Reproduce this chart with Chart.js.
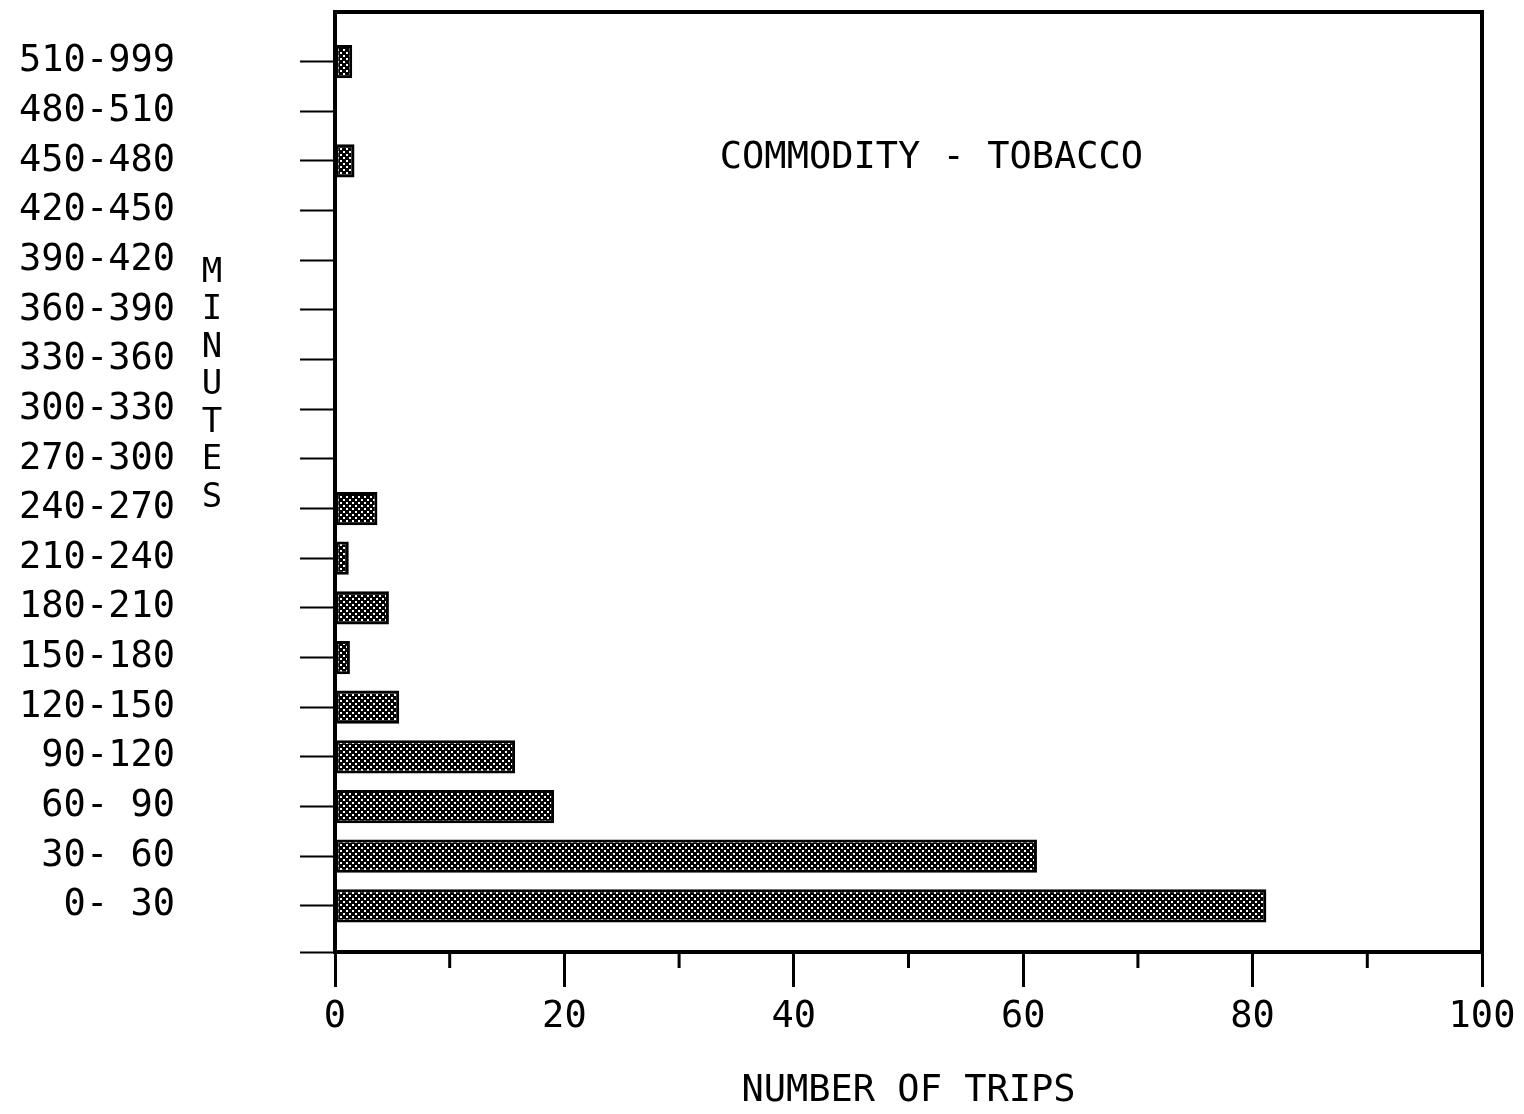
<!DOCTYPE html>
<html>
<head>
<meta charset="utf-8">
<title>Commodity - Tobacco</title>
<script src="https://cdn.jsdelivr.net/npm/chart.js@4/dist/chart.umd.min.js"></script>
<style>
  html, body { margin: 0; padding: 0; background: #fff; }
  #wrap { width: 1524px; height: 1114px; }
</style>
</head>
<body>
<div id="wrap"><canvas id="tripChart"></canvas></div>
<script>
// trip duration classes, bottom (0) to top
const classes = ['0- 30', '30- 60', '60- 90', '90-120', '120-150', '150-180', '180-210',
  '210-240', '240-270', '270-300', '300-330', '330-360', '360-390', '390-420',
  '420-450', '450-480', '480-510', '510-999'];
const trips = [81.2, 61.2, 19.1, 15.7, 5.6, 1.3, 4.7, 1.2, 3.7, 0, 0, 0, 0, 0, 0, 1.7, 0, 1.5];
const xTicks = [0, 10, 20, 30, 40, 50, 60, 70, 80, 90, 100];
const chartTitle = 'COMMODITY - TOBACCO';
const yTitle = 'MINUTES';
const xTitle = 'NUMBER OF TRIPS';

const FONT = '"DejaVu Sans Mono", "Liberation Mono", monospace';
const Y_MIN = -0.93;
const Y_MAX = 18;

// dark stipple fill for the bars
function stipple() {
  const c = document.createElement('canvas');
  c.width = 6; c.height = 6;
  const g = c.getContext('2d');
  g.fillStyle = '#000';
  g.fillRect(0, 0, 6, 6);
  g.fillStyle = '#fff';
  g.fillRect(1, 1, 2, 2);
  g.fillRect(4, 4, 2, 2);
  return g.createPattern(c, 'repeat');
}

const frame = {
  id: 'frame',
  afterDatasetsDraw(chart) {
    const { ctx, chartArea: a, scales } = chart;
    const x = scales.x, y = scales.y;
    ctx.save();
    ctx.strokeStyle = '#000';
    ctx.lineWidth = 4;
    ctx.strokeRect(a.left, a.top, a.right - a.left, a.bottom - a.top);
    // short minor ticks on the count axis
    ctx.lineWidth = 3;
    xTicks.forEach(v => {
      if (v % 20 === 0) return;
      const px = x.getPixelForValue(v);
      ctx.beginPath();
      ctx.moveTo(px, a.bottom);
      ctx.lineTo(px, a.bottom + 16);
      ctx.stroke();
    });
    ctx.fillStyle = '#000';
    ctx.textAlign = 'center';
    ctx.textBaseline = 'middle';
    ctx.font = '37px ' + FONT;
    ctx.fillText(chartTitle, x.getPixelForValue(52), y.getPixelForValue(15.05));
    // stacked letters of the duration axis title
    ctx.font = '34px ' + FONT;
    const top = y.getPixelForValue(12.75);
    yTitle.split('').forEach((ch, i) => {
      ctx.fillText(ch, a.left - 123, top + i * 37.5);
    });
    ctx.restore();
  }
};

new Chart('tripChart', {
  type: 'bar',
  data: {
    datasets: [{
      data: trips.map((v, i) => ({ x: v, y: i })),
      backgroundColor: stipple(),
      borderColor: '#000',
      borderWidth: 3,
      borderSkipped: false,
      categoryPercentage: 0.8,
      barPercentage: 0.9
    }]
  },
  options: {
    indexAxis: 'y',
    responsive: true,
    maintainAspectRatio: false,
    animation: false,
    layout: { padding: { top: 12, right: 42, left: 0, bottom: 0 } },
    plugins: { legend: { display: false }, tooltip: { enabled: false } },
    scales: {
      x: {
        type: 'linear',
        min: 0,
        max: 100,
        afterBuildTicks: s => { s.ticks = xTicks.map(v => ({ value: v })); },
        afterFit: s => { s.height = 162; s.paddingLeft = 0; s.paddingRight = 0; },
        border: { display: false },
        grid: {
          drawOnChartArea: false,
          tickLength: 35,
          tickWidth: 3,
          tickColor: c => (c.tick && c.tick.value % 20 === 0) ? '#000' : 'rgba(0,0,0,0)'
        },
        ticks: {
          color: '#000',
          padding: 8,
          maxRotation: 0,
          autoSkip: false,
          font: { family: FONT, size: 37 },
          callback: v => (v % 20 === 0 ? String(v) : '')
        },
        title: {
          display: true,
          text: xTitle,
          color: '#000',
          padding: 0,
          font: { family: FONT, size: 37 }
        }
      },
      y: {
        type: 'linear',
        min: Y_MIN,
        max: Y_MAX,
        offset: false,
        afterBuildTicks: s => {
          s.ticks = [{ value: Y_MIN }].concat(classes.map((c, i) => ({ value: i })));
        },
        afterFit: s => { s.width = 335; s.paddingTop = 0; s.paddingBottom = 0; },
        border: { display: false },
        grid: { offset: false, drawOnChartArea: false, tickLength: 35, tickWidth: 2, tickColor: '#000' },
        ticks: {
          color: '#000',
          padding: 125,
          autoSkip: false,
          font: { family: FONT, size: 37 },
          callback: v => (Number.isInteger(v) && classes[v] !== undefined ? classes[v] : '')
        }
      }
    }
  },
  plugins: [frame]
});
</script>
</body>
</html>
